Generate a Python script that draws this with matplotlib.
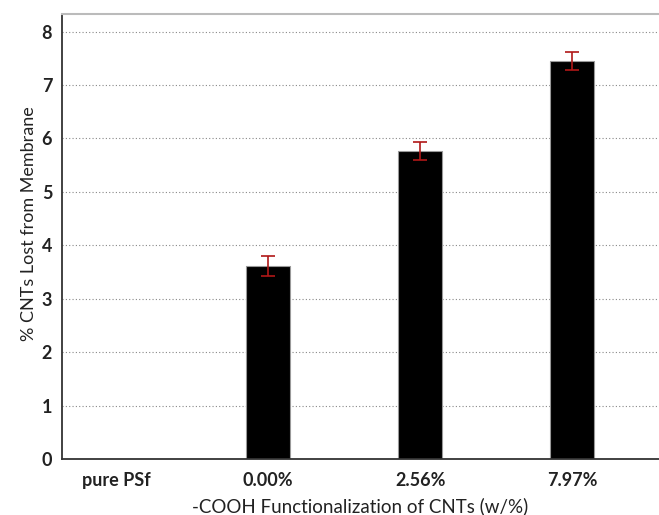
import numpy as np
import matplotlib
matplotlib.use('Agg')
import matplotlib.pyplot as plt

plt.rcParams['font.family'] = ['Lato', 'DejaVu Sans']

# data
categories = ['pure PSf', '0.00%', '2.56%', '7.97%']
lost = [0.0, 3.61, 5.77, 7.45]
err = [0.0, 0.19, 0.165, 0.165]

fig = plt.figure(figsize=(6.59, 5.15), dpi=100)
ax = fig.add_axes([0.094, 0.1087, 0.906, 0.8641])

x = np.arange(len(categories))
ax.bar(x[1:], lost[1:], width=0.29, color='black', edgecolor='#999999', linewidth=0.8, zorder=2)
ax.errorbar(x[1:], lost[1:], yerr=err[1:], fmt='none', ecolor='#b01818',
            elinewidth=1.2, capsize=5, capthick=1.2, zorder=3)

ax.set_xlim(-0.355, 3.57)
ax.set_ylim(0, 8.33)
ax.set_yticks(range(0, 9))
ax.set_xticks(x)
ax.set_xticklabels(categories)
for lab in ax.get_xticklabels() + ax.get_yticklabels():
    lab.set_fontweight('bold')
    lab.set_fontsize(13)
    lab.set_color('#222222')
ax.tick_params(axis='y', length=0, pad=7)
ax.tick_params(axis='x', length=0, pad=9)

for v in range(1, 9):
    ax.axhline(v, color='#888888', linestyle=(0, (1, 2)), linewidth=0.8, zorder=1)

ax.spines['top'].set_color('#bbbbbb')
ax.spines['top'].set_linewidth(1.5)
ax.spines['right'].set_visible(False)
ax.spines['left'].set_color('#333333')
ax.spines['left'].set_linewidth(1.3)
ax.spines['bottom'].set_color('#333333')
ax.spines['bottom'].set_linewidth(1.3)

ax.set_ylabel('% CNTs Lost from Membrane', fontsize=13, color='#222222')
ax.yaxis.set_label_coords(-0.042, 0.53)
ax.set_xlabel('-COOH Functionalization of CNTs (w/%)', fontsize=13.5, color='#222222', labelpad=6)

fig.savefig('out.png', dpi=100)
